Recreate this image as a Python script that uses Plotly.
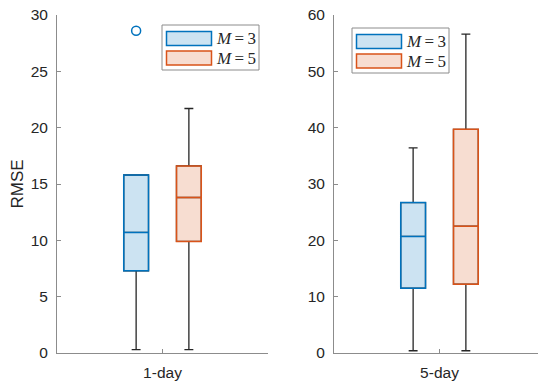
import plotly.graph_objects as go

# ---- data ----
horizons = ["1-day", "5-day"]
series = ["M=3", "M=5"]
# per horizon: [M=3, M=5]
q1_1 = [7.3, 9.9]
med_1 = [10.7, 13.8]
q3_1 = [15.8, 16.6]
lo_1 = [0.3, 0.3]
hi_1 = [15.8, 21.7]
out_1 = [[28.6], []]

q1_5 = [11.5, 12.2]
med_5 = [20.7, 22.5]
q3_5 = [26.7, 39.7]
lo_5 = [0.4, 0.4]
hi_5 = [36.4, 56.6]
out_5 = [[], []]

colors = ["#0072BD", "#D95319"]
fills = ["rgba(0,114,189,0.2)", "rgba(217,83,25,0.2)"]
labels = ["<i>M</i>\u2009=\u20093", "<i>M</i>\u2009=\u20095"]
whisk = "#262626"
axcol = "#8c8c8c"
sans = "Liberation Sans, Arial, sans-serif"
serif = "Liberation Serif, Times New Roman, serif"

W, H = 538, 387

fig = go.Figure()

panels = [
    (horizons[0], q1_1, med_1, q3_1, lo_1, hi_1, out_1, "x", "y"),
    (horizons[1], q1_5, med_5, q3_5, lo_5, hi_5, out_5, "x2", "y2"),
]

for (h, q1, med, q3, lo, hi, outs, xa, ya) in panels:
    for i in range(2):
        # whiskers (dark)
        fig.add_trace(go.Box(
            x=[h], q1=[q1[i]], median=[med[i]], q3=[q3[i]],
            lowerfence=[lo[i]], upperfence=[hi[i]],
            line=dict(color=whisk, width=1.3), fillcolor="rgba(0,0,0,0)",
            whiskerwidth=0.36, boxpoints=False, offsetgroup=str(i),
            showlegend=False, hoverinfo="skip", xaxis=xa, yaxis=ya,
        ))
        # coloured box
        if outs[i]:
            kw = dict(y=[outs[i]], boxpoints="outliers",
                      marker=dict(symbol="circle-open", color=colors[i], size=9,
                                  line=dict(width=1.5, color=colors[i])))
        else:
            kw = dict(boxpoints=False)
        fig.add_trace(go.Box(
            x=[h], q1=[q1[i]], median=[med[i]], q3=[q3[i]],
            lowerfence=[q1[i]], upperfence=[q3[i]],
            line=dict(color=colors[i], width=1.5), fillcolor=fills[i],
            whiskerwidth=0, offsetgroup=str(i), name=series[i],
            showlegend=False, xaxis=xa, yaxis=ya, **kw,
        ))

# ---- hand-drawn legends (wide swatches, like the reference) ----
shapes = []
annotations = []
# legend frames in pixel coordinates (left, top) for each panel
legend_origin = [(162, 25), (352, 28)]
for (lx, ly) in legend_origin:
    shapes.append(dict(type="rect", xref="paper", yref="paper",
                       x0=lx / W, x1=(lx + 97) / W, y0=1 - ly / H, y1=1 - (ly + 45) / H,
                       line=dict(color=axcol, width=1), fillcolor="white", layer="above"))
    for i in range(2):
        sy = ly + 6.5 + i * 19.5
        shapes.append(dict(type="rect", xref="paper", yref="paper",
                           x0=(lx + 4.5) / W, x1=(lx + 49.5) / W,
                           y0=1 - sy / H, y1=1 - (sy + 14) / H,
                           line=dict(color=colors[i], width=1.5),
                           fillcolor=fills[i], layer="above"))
        annotations.append(dict(xref="paper", yref="paper",
                                x=(lx + 52) / W, y=1 - (sy + 7) / H,
                                xanchor="left", yanchor="middle", showarrow=False,
                                text=labels[i],
                                font=dict(family=serif, size=17, color="#262626")))

axis_common = dict(
    showline=True, linecolor=axcol, linewidth=1,
    ticks="inside", ticklen=4, tickcolor=axcol,
    showgrid=False, zeroline=False, automargin=False,
    tickfont=dict(family=sans, size=15.5, color="#262626"),
)

fig.update_layout(
    width=W, height=H,
    margin=dict(l=0, r=0, t=0, b=0, autoexpand=False),
    paper_bgcolor="white", plot_bgcolor="white",
    boxmode="group", boxgap=0.5, boxgroupgap=0.53,
    xaxis=dict(domain=[57 / W, 268 / W], anchor="y", range=[-0.5, 0.5],
               ticklabelstandoff=5, **axis_common),
    xaxis2=dict(domain=[334 / W, 1.0], anchor="y2", range=[-0.5, 0.5 - 7 / 211],
                ticklabelstandoff=5, **axis_common),
    yaxis=dict(domain=[1 - 353 / H, 1 - 15 / H], anchor="x", range=[0, 30],
               dtick=5, ticklabelstandoff=5,
               title=dict(text="RMSE", standoff=2,
                          font=dict(family=sans, size=17, color="#262626")),
               **axis_common),
    yaxis2=dict(domain=[1 - 353 / H, 1 - 15 / H], anchor="x2", range=[0, 60],
                dtick=10, ticklabelstandoff=5, **axis_common),
    shapes=shapes,
    annotations=annotations,
    showlegend=False,
)

fig.write_html("out.html", config={"displayModeBar": False},
               post_script="document.body.style.margin='0';document.body.style.overflow='hidden';")
